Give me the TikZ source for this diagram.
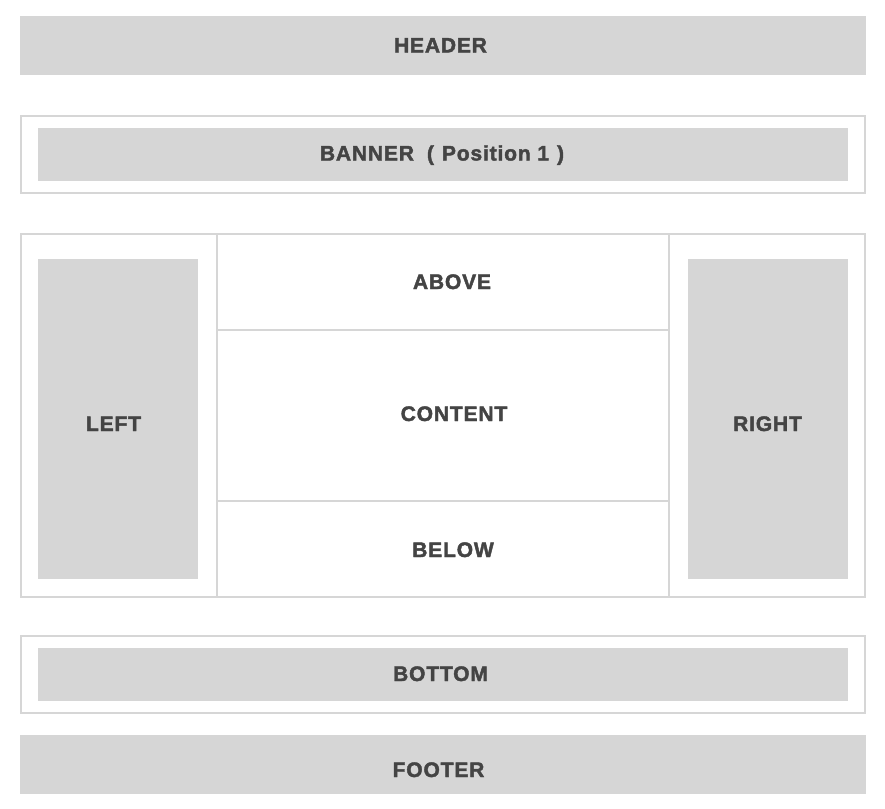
\documentclass[tikz,border=0pt]{standalone}
\usepackage{fontspec}
\setmainfont{Liberation Sans}
\newfontfamily\lblfont[FakeBold=2, LetterSpace=4]{Liberation Sans Bold}
\definecolor{boxgray}{HTML}{D6D6D6}
\definecolor{txtgray}{HTML}{444444}
\tikzset{
  block/.style={fill=boxgray, draw=none},
  frame/.style={draw=boxgray, line width=2pt},
  label/.style={text=txtgray, font=\lblfont\fontsize{21}{24}\selectfont, inner sep=0pt, anchor=base}
}
\begin{document}
\begin{tikzpicture}[x=1pt,y=-1pt]
\useasboundingbox[fill=white] (0,0) rectangle (885,808);
% header
\path[block] (20,16) rectangle (866,75);
\node[label] (header) at (440.5,52.5) {HEADER};
% banner
\draw[frame] (21,116) rectangle (865,193);
\path[block] (38,128) rectangle (848,181);
\node[label] (banner) at (442,160.5) {BANNER\hspace{13pt}(\hspace{8pt}Position 1\hspace{8pt})};
% main
\draw[frame] (21,234) rectangle (865,597);
\draw[frame] (217,234) -- (217,597);
\draw[frame] (669,234) -- (669,597);
\draw[frame] (217,329.5) -- (669,329.5);
\draw[frame] (217,501) -- (669,501);
\path[block] (38,259) rectangle (198,578.5);
\path[block] (688,259) rectangle (848,578.5);
\node[label] (left) at (113.5,431) {LEFT};
\node[label] (right) at (767.5,431) {RIGHT};
\node[label] (above) at (452,289) {ABOVE};
\node[label] (content) at (454,421) {CONTENT};
\node[label] (below) at (453,557) {BELOW};
% bottom
\draw[frame] (21,636) rectangle (865,713);
\path[block] (38,648) rectangle (848,700.5);
\node[label] (bottom) at (440.5,681) {BOTTOM};
% footer
\path[block] (20,735) rectangle (866,793.5);
\node[label] (footer) at (438.5,777) {FOOTER};
\end{tikzpicture}
\end{document}
